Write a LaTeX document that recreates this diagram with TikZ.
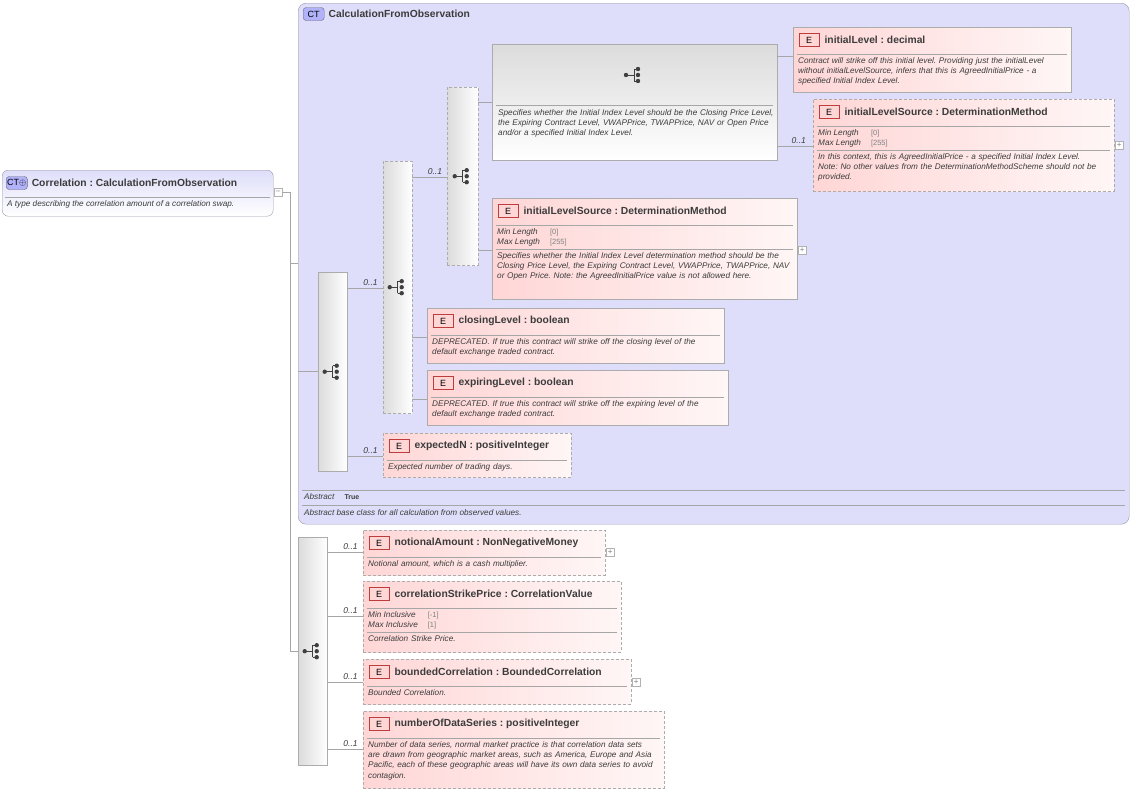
\documentclass[tikz,border=0pt]{standalone}
\usepackage{fontspec}
\setmainfont{Liberation Sans}
\usetikzlibrary{calc,positioning}
\hyphenpenalty=10000
\exhyphenpenalty=10000
\frenchspacing

\definecolor{ctfill}{RGB}{222,222,250}
\definecolor{ctline}{RGB}{150,150,170}
\definecolor{epink}{RGB}{255,214,214}
\definecolor{epale}{RGB}{255,246,246}
\definecolor{ered}{RGB}{190,60,60}
\definecolor{txtgray}{RGB}{60,60,60}

\tikzset{
  elembox/.style={draw=gray!65, left color=epink, right color=epale, inner sep=0pt},
  dashbox/.style={dash pattern=on 3pt off 2pt},
  badge/.style={draw=ered, fill=epink, font=\fontsize{9}{9}\selectfont, text=black, minimum width=20pt, minimum height=13pt, inner sep=0pt},
  ctbadge/.style={draw=ctline!70!black, fill=ctfill!80!blue, rounded corners=3pt, font=\fontsize{9}{9}\selectfont, minimum width=21pt, minimum height=13pt, inner sep=1pt},
  title/.style={font=\fontsize{10.3}{11}\selectfont\bfseries, text=txtgray, inner sep=2pt},
  desc/.style={font=\fontsize{8.2}{10.4}\selectfont\itshape, text=txtgray, inner sep=0pt, align=left},
  facet/.style={font=\fontsize{8.2}{10}\selectfont, text=txtgray, inner sep=0pt},
  sepline/.style={draw=gray!70, line width=0.5pt},
  conn/.style={draw=gray!70, line width=0.6pt},
  mult/.style={font=\fontsize{8.5}{9}\selectfont\itshape, text=txtgray, inner sep=2pt},
  grpbox/.style={draw=gray!65, left color=gray!28, right color=white, inner sep=0pt},
  vgrpbox/.style={draw=gray!65, top color=gray!28, bottom color=white, inner sep=0pt},
  plusbox/.style={draw=gray!60, fill=white, minimum size=8pt, inner sep=0pt, font=\fontsize{8}{8}\selectfont, text=gray},
  seqicon/.pic={
    \fill[black!75] (-8pt,0) circle (2.2pt);
    \draw[black!75, line width=1pt] (-8pt,0) -- (0,0) (0,-6pt) -- (0,6pt)
      (0,-6pt) -- (3pt,-6pt) (0,6pt) -- (3pt,6pt);
    \foreach \dy in {-6,0,6} \fill[black!75] (4pt,\dy pt) circle (2.2pt);
  }
}

% element box: name, x, y, w, h, extra style, title, description
\newcommand\elem[8]{%
  \node[elembox,#6,minimum width=#4pt,minimum height=#5pt,anchor=north west] (#1) at (#2,#3) {};
  \node[badge,anchor=west] (#1-e) at ($(#1.north west)+(6pt,-13pt)$) {E};
  \node[title,anchor=west,right=3pt of #1-e] (#1-t) {#7};
  \draw[sepline] ($(#1.north west)+(4pt,-27pt)$) -- ($(#1.north east)+(-4pt,-27pt)$);
  \pgfmathsetmacro\tw{#4-9}
  \node[desc,text width=\tw pt,anchor=north west] (#1-d) at ($(#1.north west)+(5pt,-30pt)$) {#8};
}
% element box with facets: name, x, y, w, h, extra style, title, facets, description
\newcommand\elemf[9]{%
  \node[elembox,#6,minimum width=#4pt,minimum height=#5pt,anchor=north west] (#1) at (#2,#3) {};
  \node[badge,anchor=west] (#1-e) at ($(#1.north west)+(6pt,-13pt)$) {E};
  \node[title,anchor=west,right=3pt of #1-e] (#1-t) {#7};
  \draw[sepline] ($(#1.north west)+(4pt,-27pt)$) -- ($(#1.north east)+(-4pt,-27pt)$);
  \node[facet,anchor=north west] (#1-f) at ($(#1.north west)+(5pt,-29pt)$)
    {\begin{tabular}{@{}l@{\hspace{10pt}}l@{}}#8\end{tabular}};
  \draw[sepline] ($(#1.north west)+(4pt,-51pt)$) -- ($(#1.north east)+(-4pt,-51pt)$);
  \pgfmathsetmacro\tw{#4-9}
  \node[desc,text width=\tw pt,anchor=north west] (#1-d) at ($(#1.north west)+(5pt,-54pt)$) {#9};
}
\newcommand\fct[2]{\textit{#1} & {\color{gray}\fontsize{7.5}{9}\selectfont[#2]}}
\newcommand\ofty{\ :\ }

\begin{document}
\begin{tikzpicture}[x=1pt,y=-1pt]
  \useasboundingbox (0,0) rectangle (1133,793);

  % root complex type
  \node[draw=ctline, rounded corners=6pt, top color=ctfill, bottom color=white,
        minimum width=271pt, minimum height=46pt, anchor=north west, inner sep=0pt] (root) at (2,170) {};
  \node[ctbadge,anchor=west] (root-b) at (6,183) {CT$\oplus$};
  \node[title,anchor=west,right=2pt of root-b] (root-t) {Correlation\ofty CalculationFromObservation};
  \draw[sepline] (5,197) -- (270,197);
  \node[desc,anchor=north west] (root-d) at (7,200) {A type describing the correlation amount of a correlation swap.};
  \node[plusbox,anchor=west] (root-m) at (274,192) {--};

  % base type
  \node[draw=ctline, rounded corners=8pt, fill=ctfill, minimum width=831pt, minimum height=521pt,
        anchor=north west, inner sep=0pt] (base) at (298,3) {};
  \node[ctbadge,anchor=west] (base-b) at (303,14) {CT};
  \node[title,anchor=west,right=2pt of base-b] (base-t) {CalculationFromObservation};
  \draw[sepline] (302,490) -- (1125,490);
  \node[facet,anchor=west] (base-a) at (304,497) {\textit{Abstract}\hspace{10pt}\textbf{\fontsize{7}{7}\selectfont True}};
  \draw[sepline] (302,505) -- (1125,505);
  \node[desc,anchor=west] (base-d) at (304,513) {Abstract base class for all calculation from observed values.};

  % compositors
  \node[grpbox,minimum width=29pt,minimum height=199pt,anchor=north west] (seqA) at (318,272) {};
  \pic at (seqA.center) {seqicon};
  \node[grpbox,dashbox,minimum width=29pt,minimum height=252pt,anchor=north west] (choiceA) at (383,161) {};
  \pic at (choiceA.center) {seqicon};
  \node[grpbox,dashbox,minimum width=31pt,minimum height=178pt,anchor=north west] (seqB) at (447,87) {};
  \pic at (seqB.center) {seqicon};
  \node[vgrpbox,minimum width=285pt,minimum height=116pt,anchor=north west] (grp) at (492,44) {};
  \pic at (634,75) {seqicon};
  \draw[sepline] (496,105) -- (773,105);
  \node[desc,text width=276pt,anchor=north west] (grp-d) at (498,109) {Specifies whether the Initial Index Level should be the Closing Price Level, the Expiring Contract Level, VWAPPrice, TWAPPrice, NAV or Open Price and/or a specified Initial Index Level.};
  \node[grpbox,minimum width=29pt,minimum height=228pt,anchor=north west] (seqC) at (298,537) {};
  \pic at (seqC.center) {seqicon};

  % elements
  \elem{initLevel}{793}{27}{278}{65}{}{initialLevel\ofty decimal}{Contract will strike off this initial level. Providing just the initialLevel without initialLevelSource, infers that this is AgreedInitialPrice - a specified Initial Index Level.}
  \elemf{initSrcA}{813}{99}{301}{92}{dashbox}{initialLevelSource\ofty DeterminationMethod}{\fct{Min Length}{0}\\ \fct{Max Length}{255}}{In this context, this is AgreedInitialPrice - a specified Initial Index Level. Note: No other values from the DeterminationMethodScheme should not be provided.}
  \node[plusbox,anchor=west] (initSrcA-p) at (1115,145) {+};
  \elemf{initSrcB}{492}{198}{305}{101}{}{initialLevelSource\ofty DeterminationMethod}{\fct{Min Length}{0}\\ \fct{Max Length}{255}}{Specifies whether the Initial Index Level determination method should be the Closing Price Level, the Expiring Contract Level, VWAPPrice, TWAPPrice, NAV or Open Price. Note: the AgreedInitialPrice value is not allowed here.}
  \node[plusbox,anchor=west] (initSrcB-p) at (798,250) {+};
  \elem{closing}{427}{308}{297}{55}{}{closingLevel\ofty boolean}{DEPRECATED. If true this contract will strike off the closing level of the default exchange traded contract.}
  \elem{expiring}{427}{370}{301}{55}{}{expiringLevel\ofty boolean}{DEPRECATED. If true this contract will strike off the expiring level of the default exchange traded contract.}
  \elem{expN}{383}{433}{188}{44}{dashbox}{expectedN\ofty positiveInteger}{Expected number of trading days.}
  \elem{notional}{363}{530}{242}{45}{dashbox}{notionalAmount\ofty NonNegativeMoney}{Notional amount, which is a cash multiplier.}
  \node[plusbox,anchor=west] (notional-p) at (606,552) {+};
  \elemf{strike}{363}{581}{258}{71}{dashbox}{correlationStrikePrice\ofty CorrelationValue}{\fct{Min Inclusive}{-1}\\ \fct{Max Inclusive}{1}}{Correlation Strike Price.}
  \elem{bounded}{363}{659}{268}{45}{dashbox}{boundedCorrelation\ofty BoundedCorrelation}{Bounded Correlation.}
  \node[plusbox,anchor=west] (bounded-p) at (632,682) {+};
  \elem{numSeries}{363}{711}{301}{77}{dashbox}{numberOfDataSeries\ofty positiveInteger}{Number of data series, normal market practice is that correlation data sets are drawn from geographic market areas, such as America, Europe and Asia Pacific, each of these geographic areas will have its own data series to avoid contagion.}

  % connectors
  \coordinate (trunk) at (290,192);
  \draw[conn] (root-m.east) -- (trunk) -- (trunk |- seqC.west) -- (seqC.west);
  \draw[conn] (trunk |- 0,263) -- (base.west |- 0,263);
  \draw[conn] (base.west |- seqA.west) -- (seqA.west);
  \draw[conn] (seqA.east |- 0,288) -- (choiceA.west |- 0,288) node[mult,pos=0.65,above] {0..1};
  \draw[conn] (seqA.east |- 0,456) -- (expN.west |- 0,456) node[mult,pos=0.65,above] {0..1};
  \draw[conn] (choiceA.east |- 0,177) -- (seqB.west |- 0,177) node[mult,pos=0.65,above] {0..1};
  \draw[conn] (choiceA.east |- 0,337) -- (closing.west |- 0,337);
  \draw[conn] (choiceA.east |- 0,399) -- (expiring.west |- 0,399);
  \draw[conn] (seqB.east |- 0,102) -- (grp.west |- 0,102);
  \draw[conn] (seqB.east |- 0,250) -- (initSrcB.west |- 0,250);
  \draw[conn] (grp.east |- 0,56) -- (initLevel.west |- 0,56);
  \draw[conn] (grp.east |- 0,146) -- (initSrcA.west |- 0,146) node[mult,pos=0.6,above] {0..1};
  \foreach \tgt/\yy in {notional/552,strike/616,bounded/682,numSeries/749}
    \draw[conn] (seqC.east |- 0,\yy) -- (\tgt.west |- 0,\yy) node[mult,pos=0.65,above] {0..1};
\end{tikzpicture}
\end{document}
